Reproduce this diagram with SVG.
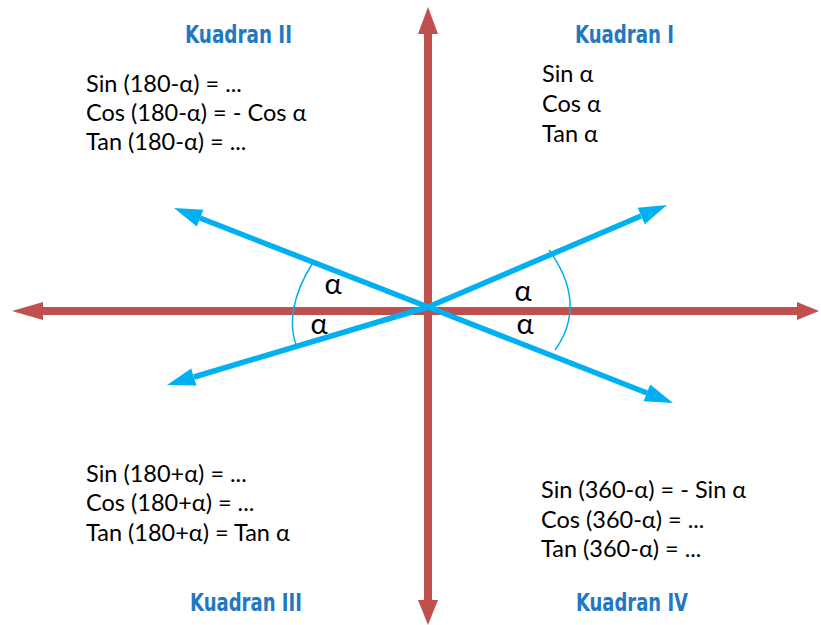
<svg xmlns="http://www.w3.org/2000/svg" width="821" height="625" viewBox="0 0 821 625">
<defs>
<style>
.ax{stroke:#C0504D;stroke-width:8;fill:none}
.ah{fill:#C0504D}
.bl{stroke:#00B0F0;stroke-width:5.5;fill:none;stroke-linecap:butt}
.bh{fill:#00B0F0}
.arc{stroke:#00B0F0;stroke-width:1.5;fill:none}
.t{font-family:Lato,"Liberation Sans",sans-serif;font-size:23.5px;fill:#000}
.h{font-family:"DejaVu Sans Condensed","DejaVu Sans",sans-serif;font-weight:bold;font-size:25px;fill:#1F78C1}
.a{font-family:Lato,"Liberation Sans",sans-serif;font-size:29px;fill:#000;text-anchor:middle}
</style>
</defs>
<g id="connectors">
<line class="ax" x1="428" y1="602" x2="428" y2="32"/>
<path class="ah" d="M428,7 L418,34 L438,34 Z"/>
<path class="ah" d="M428,625 L418,600 L438,600 Z"/>
<line class="ax" x1="41" y1="311" x2="799" y2="311"/>
<path class="ah" d="M12,311 L43,302 L43,320 Z"/>
<path class="ah" d="M819,311 L797,302 L797,320 Z"/>
<path class="bl" d="M428,307 L200,218"/>
<path class="bh" d="M174,208 L203.4,209.8 L196.8,226.6 Z"/>
<path class="bl" d="M428,307 L641,216"/>
<path class="bh" d="M667,205 L644.8,224.3 L637.7,207.7 Z"/>
<path class="bl" d="M428,307 L194,377"/>
<path class="bh" d="M167,385 L191.2,368.4 L196.4,385.6 Z"/>
<path class="bl" d="M428,307 L647,393"/>
<path class="bh" d="M673,403 L643.6,401.2 L650.2,384.4 Z"/>
<path class="arc" d="M312,264 Q284,309.5 296,345"/>
<path class="arc" d="M549,250 Q588,304 555,350"/>
</g>
<g id="angles">
<text class="a" x="333" y="294">α</text>
<text class="a" x="319" y="334">α</text>
<text class="a" x="523" y="301">α</text>
<text class="a" x="525" y="334">α</text>
</g>
<g id="q1">
<text class="h" x="575" y="43" textLength="99" lengthAdjust="spacingAndGlyphs">Kuadran I</text>
<text class="t" x="542" y="82">Sin α</text>
<text class="t" x="542" y="112">Cos α</text>
<text class="t" x="542" y="142">Tan α</text>
</g>
<g id="q2">
<text class="h" x="185" y="43" textLength="107" lengthAdjust="spacingAndGlyphs">Kuadran II</text>
<text class="t" x="86" y="92">Sin (180-α) = ...</text>
<text class="t" x="86" y="121">Cos (180-α) = - Cos α</text>
<text class="t" x="86" y="150">Tan (180-α) = ...</text>
</g>
<g id="q3">
<text class="h" x="190" y="611" textLength="112" lengthAdjust="spacingAndGlyphs">Kuadran III</text>
<text class="t" x="86" y="482">Sin (180+α) = ...</text>
<text class="t" x="86" y="511">Cos (180+α) = ...</text>
<text class="t" x="86" y="541">Tan (180+α) = Tan α</text>
</g>
<g id="q4">
<text class="h" x="576" y="611" textLength="112" lengthAdjust="spacingAndGlyphs">Kuadran IV</text>
<text class="t" x="541" y="498">Sin (360-α) = - Sin α</text>
<text class="t" x="541" y="528">Cos (360-α) = ...</text>
<text class="t" x="541" y="557">Tan (360-α) = ...</text>
</g>
</svg>
